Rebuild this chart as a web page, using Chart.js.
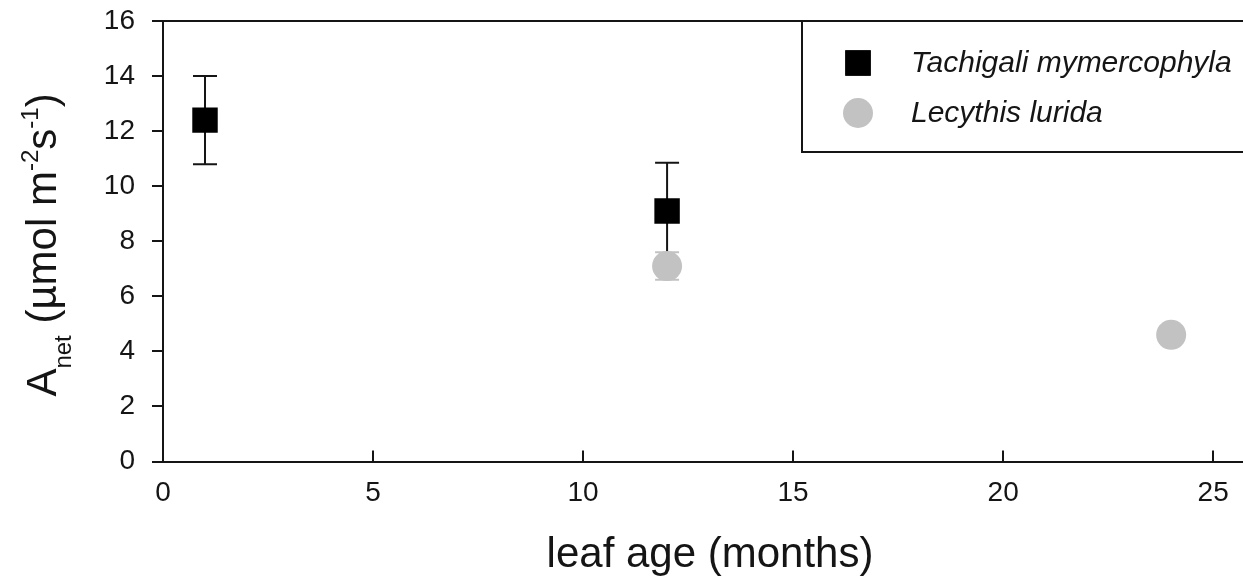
<!DOCTYPE html>
<html>
<head>
<meta charset="utf-8">
<script src="https://cdn.jsdelivr.net/npm/chart.js@4"></script>
<style>
  html, body { margin: 0; padding: 0; background: #fff; }
  #wrap { width: 1243px; height: 584px; }
</style>
</head>
<body>
<div id="wrap"><canvas id="anetChart" width="1243" height="584"></canvas></div>
<script>
// Leaf age (months) vs net assimilation, means with error bars
const tachigaliAge = [1, 12];
const tachigaliAnet = [12.4, 9.1];
const tachigaliErr = [1.6, 1.75];

const lecythisAge = [12, 24];
const lecythisAnet = [7.1, 4.6];
const lecythisErr = [0.5, 0.3];

const seriesNames = ['Tachigali mymercophyla', 'Lecythis lurida'];
const xTicks = [0, 5, 10, 15, 20, 25];
const yTicks = [0, 2, 4, 6, 8, 10, 12, 14, 16];

const FONT = "'Liberation Sans', Arial, sans-serif";
const INK = '#151515';
const GREY = '#c2c2c2';

Chart.defaults.font.family = FONT;
Chart.defaults.color = INK;

function toPoints(xs, ys) {
  return xs.map((x, i) => ({ x: x, y: ys[i] }));
}

// error bars, drawn below the markers
const errorBars = {
  id: 'errorBars',
  beforeDatasetsDraw(chart) {
    const ctx = chart.ctx;
    const yScale = chart.scales.y;
    chart.data.datasets.forEach((ds, di) => {
      const meta = chart.getDatasetMeta(di);
      ctx.save();
      ctx.strokeStyle = ds.errorColor;
      ctx.lineWidth = 2;
      meta.data.forEach((pt, i) => {
        const v = ds.data[i].y;
        const e = ds.errors[i];
        const yTop = yScale.getPixelForValue(v + e);
        const yBot = yScale.getPixelForValue(v - e);
        const half = 12;
        ctx.beginPath();
        ctx.moveTo(pt.x, yTop);
        ctx.lineTo(pt.x, yBot);
        ctx.moveTo(pt.x - half, yTop);
        ctx.lineTo(pt.x + half, yTop);
        ctx.moveTo(pt.x - half, yBot);
        ctx.lineTo(pt.x + half, yBot);
        ctx.stroke();
      });
      ctx.restore();
    });
  }
};

// top frame, inward x ticks, axis titles (with sub/superscripts), boxed legend
const decorations = {
  id: 'decorations',
  afterDraw(chart) {
    const ctx = chart.ctx;
    const area = chart.chartArea;
    const xScale = chart.scales.x;
    ctx.save();

    ctx.strokeStyle = INK;
    ctx.lineWidth = 2;
    ctx.beginPath();
    ctx.moveTo(area.left, area.top);
    ctx.lineTo(chart.width, area.top);
    // x ticks point up into the plot
    xTicks.forEach(v => {
      const px = Math.round(xScale.getPixelForValue(v));
      ctx.moveTo(px, area.bottom);
      ctx.lineTo(px, area.bottom - 11);
    });
    ctx.stroke();

    // x axis title
    ctx.fillStyle = INK;
    ctx.font = '42px ' + FONT;
    ctx.textAlign = 'center';
    ctx.textBaseline = 'alphabetic';
    ctx.fillText('leaf age (months)', 710, 567);

    // y axis title
    const parts = [
      { t: 'A', size: 42, dy: 0 },
      { t: 'net', size: 24, dy: 15 },
      { t: ' (\u00b5mol m', size: 42, dy: 0 },
      { t: '-2', size: 24, dy: -18 },
      { t: 's', size: 42, dy: 0 },
      { t: '-1', size: 24, dy: -18 },
      { t: ')', size: 42, dy: 0 }
    ];
    let total = 0;
    parts.forEach(p => {
      ctx.font = p.size + 'px ' + FONT;
      p.w = ctx.measureText(p.t).width;
      total += p.w;
    });
    ctx.translate(56, 245);
    ctx.rotate(-Math.PI / 2);
    ctx.textAlign = 'left';
    let tx = -total / 2;
    parts.forEach(p => {
      ctx.font = p.size + 'px ' + FONT;
      ctx.fillText(p.t, tx, p.dy);
      tx += p.w;
    });
    ctx.setTransform(1, 0, 0, 1, 0, 0);

    // legend box
    const boxLeft = 802, boxBottom = 152;
    ctx.fillStyle = '#fff';
    ctx.fillRect(boxLeft, area.top, chart.width - boxLeft + 2, boxBottom - area.top);
    ctx.strokeStyle = INK;
    ctx.lineWidth = 2;
    ctx.strokeRect(boxLeft, area.top, chart.width - boxLeft + 4, boxBottom - area.top);

    const rows = [63, 113];
    chart.data.datasets.forEach(ds => {
      const row = rows[seriesNames.indexOf(ds.label)];
      Chart.helpers.drawPoint(ctx, {
        pointStyle: ds.pointStyle,
        radius: ds.pointRadius,
        borderWidth: 0,
        rotation: 0
      }, 858, row);
      ctx.fillStyle = ds.backgroundColor;
      ctx.fill();
      ctx.fillStyle = INK;
      ctx.font = 'italic 30px ' + FONT;
      ctx.textAlign = 'left';
      ctx.textBaseline = 'middle';
      ctx.fillText(ds.label, 911, row + 1);
    });
    ctx.restore();
  }
};

const ctx = document.getElementById('anetChart').getContext('2d');
new Chart(ctx, {
  type: 'scatter',
  data: {
    datasets: [
      {
        label: seriesNames[1],
        data: toPoints(lecythisAge, lecythisAnet),
        errors: lecythisErr,
        errorColor: GREY,
        pointStyle: 'circle',
        pointRadius: 15,
        backgroundColor: GREY,
        borderColor: GREY,
        borderWidth: 0
      },
      {
        label: seriesNames[0],
        data: toPoints(tachigaliAge, tachigaliAnet),
        errors: tachigaliErr,
        errorColor: INK,
        pointStyle: 'rect',
        pointRadius: 18,
        backgroundColor: '#000',
        borderColor: '#000',
        borderWidth: 0
      }
    ]
  },
  options: {
    responsive: false,
    animation: false,
    devicePixelRatio: 1,
    layout: { autoPadding: false, padding: { top: 21, right: 0, left: 0, bottom: 0 } },
    plugins: {
      legend: { display: false },
      tooltip: { enabled: false }
    },
    scales: {
      x: {
        type: 'linear',
        min: 0,
        max: 25.71,
        afterBuildTicks: scale => { scale.ticks = xTicks.map(v => ({ value: v })); },
        afterFit: scale => {
          scale.height = 122.5;
          scale.paddingLeft = 0;
          scale.paddingRight = 0;
        },
        grid: { drawOnChartArea: false, drawTicks: false },
        border: { color: INK, width: 2 },
        ticks: { font: { size: 28 }, color: INK, padding: 15, maxRotation: 0 }
      },
      y: {
        type: 'linear',
        min: 0,
        max: 16,
        afterBuildTicks: scale => { scale.ticks = yTicks.map(v => ({ value: v })); },
        afterFit: scale => {
          scale.width = 163;
          scale.paddingTop = 0;
          scale.paddingBottom = 0;
        },
        grid: { drawOnChartArea: false, tickLength: 11, color: INK, lineWidth: 2 },
        border: { color: INK, width: 2 },
        ticks: { font: { size: 28 }, color: INK, padding: 17 }
      }
    }
  },
  plugins: [errorBars, decorations]
});
</script>
</body>
</html>
